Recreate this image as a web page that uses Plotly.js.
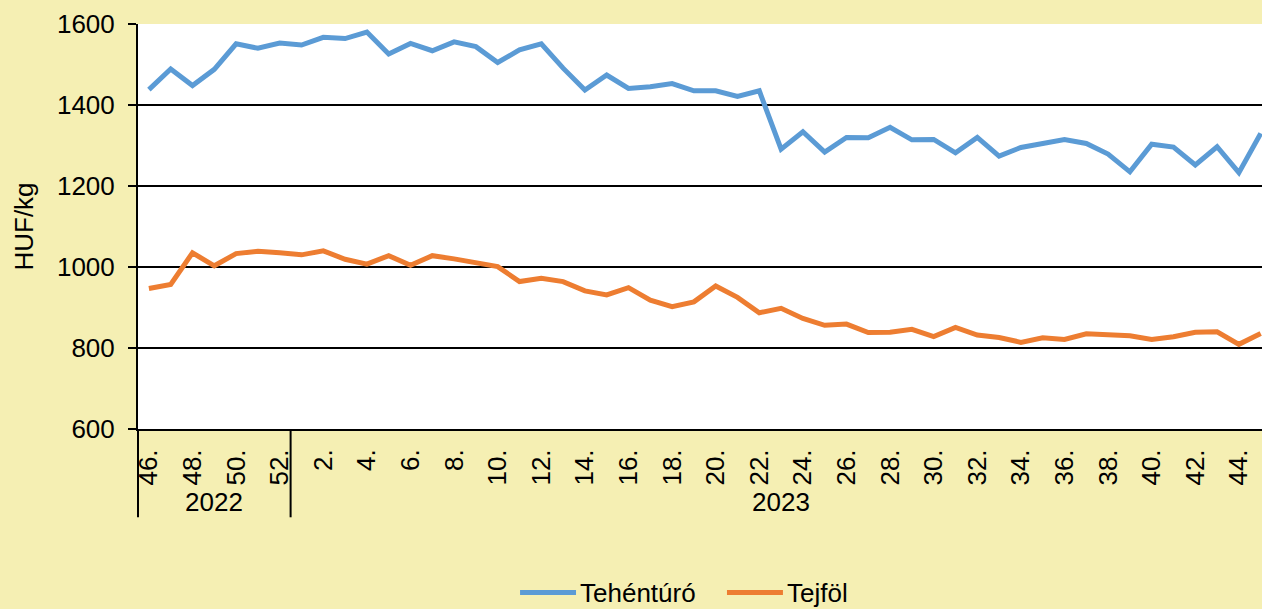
<!DOCTYPE html>
<html>
<head>
<meta charset="utf-8">
<script src="https://cdn.plot.ly/plotly-3.0.1.min.js"></script>
<style>html,body{margin:0;padding:0;background:#F5EFB3;}</style>
</head>
<body>
<div id="chart" style="width:1262px;height:609px;"></div>
<script>
// Week labels: 2022 weeks 46-52, 2023 weeks 1-45
const weeks = ["46.","47.","48.","49.","50.","51.","52.",
  "1.","2.","3.","4.","5.","6.","7.","8.","9.","10.","11.","12.","13.","14.","15.","16.","17.","18.","19.","20.",
  "21.","22.","23.","24.","25.","26.","27.","28.","29.","30.","31.","32.","33.","34.","35.","36.","37.","38.","39.","40.",
  "41.","42.","43.","44.","45."];
const years = ["2022","2023"];
const yearStartIdx = [0, 7];
const yearEndIdx = [6, 51];

const seriesNames = ["Tehéntúró", "Tejföl"];
const seriesColors = ["#5B9BD5", "#ED7D31"];
const tehenturo = [1438,1489,1448,1488,1551,1540,1553,1548,1567,1564,1580,1526,1552,1534,1556,1544,1505,1536,1551,1491,1437,1474,1441,1445,1453,1435,1435,1421,1435,1291,1334,1284,1320,1319,1345,1314,1315,1282,1320,1274,1295,1304,1315,1305,1279,1235,1303,1296,1252,1297,1233,1330];
const tejfol = [947,957,1035,1003,1033,1039,1035,1030,1040,1019,1007,1028,1004,1028,1020,1009,1001,964,972,964,941,931,949,918,902,914,953,925,887,898,873,856,859,838,839,846,828,851,832,826,814,825,821,835,832,830,821,828,839,840,809,836];

const idx = weeks.map((w, i) => i);
const tickIdx = idx.filter(i => i % 2 === 0);
const tickText = tickIdx.map(i => weeks[i]);

const FONT = "Arial, 'Liberation Sans', sans-serif";
const FS = 26;

const traces = [tehenturo, tejfol].map((vals, k) => ({
  x: idx, y: vals, name: seriesNames[k], type: "scatter", mode: "lines",
  line: {color: seriesColors[k], width: 5}, showlegend: false
}));

const shapes = [
  {type: "line", xref: "paper", yref: "paper", x0: 0, x1: 0, y0: 0, y1: -0.218,
   line: {color: "black", width: 2}},
  {type: "line", xref: "x", yref: "paper", x0: yearEndIdx[0] + 0.5, x1: yearEndIdx[0] + 0.5, y0: 0, y1: -0.218,
   line: {color: "black", width: 2}}
];

const annotations = years.map((yr, k) => ({
  x: (yearStartIdx[k] + yearEndIdx[k]) / 2, xref: "x",
  y: -0.18, yref: "paper", yanchor: "middle", xanchor: "center",
  text: yr, showarrow: false, font: {family: FONT, size: FS, color: "black"}
}));

// custom legend (line swatch + label) below the chart
const legendY = -0.404;
const legendLineX = [[0.3399, 0.3897], [0.524, 0.5738]];
seriesNames.forEach((nm, k) => {
  shapes.push({type: "line", xref: "paper", yref: "paper",
    x0: legendLineX[k][0], x1: legendLineX[k][1], y0: legendY, y1: legendY,
    line: {color: seriesColors[k], width: 5}});
  annotations.push({xref: "paper", yref: "paper", x: legendLineX[k][1] + 0.002, y: legendY,
    xanchor: "left", yanchor: "middle", text: nm, showarrow: false,
    font: {family: FONT, size: FS, color: "black"}});
});

const layout = {
  width: 1262, height: 609, autosize: false,
  paper_bgcolor: "#F5EFB3", plot_bgcolor: "#FFFFFF",
  margin: {l: 138, r: 0, t: 24, b: 180, autoexpand: false},
  font: {family: FONT, size: FS, color: "black"},
  showlegend: false,
  xaxis: {
    type: "linear", range: [-0.5, 51.06], tickmode: "array", tickvals: tickIdx, ticktext: tickText,
    tickangle: -90, showgrid: false, zeroline: false, showline: true, linecolor: "black", linewidth: 2,
    ticks: "", ticklabelstandoff: 8, tickfont: {family: FONT, size: FS, color: "black"}, fixedrange: true,
    automargin: false
  },
  yaxis: {
    range: [600, 1600], dtick: 200, tick0: 600, showgrid: true, gridcolor: "black", gridwidth: 2,
    zeroline: false, showline: true, linecolor: "black", linewidth: 2,
    ticks: "outside", ticklen: 8, tickwidth: 2, tickcolor: "black", ticklabelstandoff: 8,
    tickfont: {family: FONT, size: FS, color: "black"},
    title: {text: "HUF/kg", font: {family: FONT, size: FS, color: "black"}, standoff: 16},
    automargin: false
  },
  shapes: shapes,
  annotations: annotations
};

Plotly.newPlot("chart", traces, layout, {displayModeBar: false, staticPlot: true});
</script>
</body>
</html>
